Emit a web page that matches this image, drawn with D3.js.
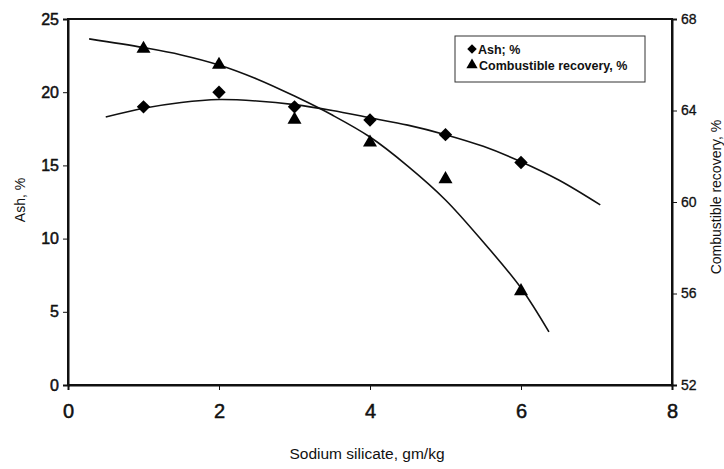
<!DOCTYPE html>
<html>
<head>
<meta charset="utf-8">
<script src="https://cdn.jsdelivr.net/npm/d3@7"></script>
<style>
  body { margin: 0; background: #fff; }
  svg text { font-family: "Liberation Sans", Arial, sans-serif; fill: #111; }
  .tick text { stroke: #111; stroke-width: 0.5px; }
</style>
</head>
<body>
<div id="chart"></div>
<script>
// measured points
const dose = [1, 2, 3, 4, 5, 6];
const ash = [19.0, 20.0, 19.0, 18.1, 17.1, 15.2];
const recovery = [66.7, 66.0, 63.6, 62.6, 61.0, 56.1];

// trend lines
const ashFitX = [0.5, 1, 1.5, 2, 2.5, 3, 3.5, 4, 4.5, 5, 5.5, 6, 6.5, 7.05];
const ashFitY = [18.3, 18.9, 19.3, 19.5, 19.4, 19.15, 18.75, 18.25, 17.75, 17.1, 16.3, 15.25, 14.0, 12.3];
const recFitX = [0.28, 1, 1.5, 2, 2.5, 3, 3.5, 4, 4.5, 5, 5.5, 6, 6.37];
const recFitY = [67.13, 66.75, 66.43, 65.99, 65.38, 64.63, 63.8, 62.84, 61.57, 60.09, 58.25, 56.24, 54.32];

// tick values
const xTicks = [0, 2, 4, 6, 8];
const ashTicks = [0, 5, 10, 15, 20, 25];
const recTicks = [52, 56, 60, 64, 68];

const width = 724, height = 469;
const plot = { left: 68, right: 672, top: 19, bottom: 385 };

const svg = d3.select("#chart").append("svg")
    .attr("width", width)
    .attr("height", height);

const x = d3.scaleLinear().domain([0, 8]).range([plot.left, plot.right]);
const yAsh = d3.scaleLinear().domain([0, 25]).range([plot.bottom, plot.top]);
const yRec = d3.scaleLinear().domain([52, 68]).range([plot.bottom, plot.top]);

// frame
svg.append("rect")
    .attr("x", plot.left).attr("y", plot.top)
    .attr("width", plot.right - plot.left).attr("height", plot.bottom - plot.top)
    .attr("fill", "none").attr("stroke", "#111").attr("stroke-width", 2);

// axes
const xAxis = svg.append("g")
    .attr("transform", `translate(0,${plot.bottom})`)
    .call(d3.axisBottom(x).tickValues(xTicks).tickSize(5).tickPadding(14));
xAxis.selectAll("text").style("font-size", "20px");

const leftAxis = svg.append("g")
    .attr("transform", `translate(${plot.left},0)`)
    .call(d3.axisLeft(yAsh).tickValues(ashTicks).tickSize(5).tickPadding(4));
leftAxis.selectAll("text").style("font-size", "16px");

const rightAxis = svg.append("g")
    .attr("transform", `translate(${plot.right},0)`)
    .call(d3.axisRight(yRec).tickValues(recTicks).tickSize(5).tickPadding(4));
rightAxis.selectAll("text").style("font-size", "14px").style("stroke-width", "0.3px");

svg.selectAll(".domain").attr("stroke", "#111").attr("stroke-width", 2);
svg.selectAll(".tick line").attr("stroke", "#111").attr("stroke-width", 1);

// axis titles
svg.append("text")
    .attr("x", 367).attr("y", 459)
    .attr("text-anchor", "middle")
    .style("font-size", "15.5px")
    .text("Sodium silicate, gm/kg");

svg.append("text")
    .attr("transform", "translate(25,200) rotate(-90)")
    .attr("text-anchor", "middle")
    .style("font-size", "14px")
    .text("Ash, %");

svg.append("text")
    .attr("transform", "translate(721,197) rotate(-90)")
    .attr("text-anchor", "middle")
    .style("font-size", "14px")
    .text("Combustible recovery, %");

// trend lines
const ashLine = d3.line()
    .x((d, i) => x(ashFitX[i]))
    .y(d => yAsh(d))
    .curve(d3.curveCatmullRom);
const recLine = d3.line()
    .x((d, i) => x(recFitX[i]))
    .y(d => yRec(d))
    .curve(d3.curveCatmullRom);

svg.append("path")
    .attr("d", ashLine(ashFitY))
    .attr("fill", "none").attr("stroke", "#111").attr("stroke-width", 1.6);
svg.append("path")
    .attr("d", recLine(recFitY))
    .attr("fill", "none").attr("stroke", "#111").attr("stroke-width", 1.6);

// markers
const diamond = d3.symbol().type(d3.symbolSquare).size(90);
const triangle = d3.symbol().type(d3.symbolTriangle).size(85);

svg.selectAll(".ash")
    .data(ash)
    .enter()
    .append("path")
    .attr("class", "ash")
    .attr("d", diamond)
    .attr("transform", (d, i) => `translate(${x(dose[i])},${yAsh(d)}) rotate(45)`)
    .attr("fill", "#000");

svg.selectAll(".rec")
    .data(recovery)
    .enter()
    .append("path")
    .attr("class", "rec")
    .attr("d", triangle)
    .attr("transform", (d, i) => `translate(${x(dose[i])},${yRec(d)})`)
    .attr("fill", "#000");

// legend
const legend = svg.append("g");
legend.append("rect")
    .attr("x", 455).attr("y", 36)
    .attr("width", 190).attr("height", 46)
    .attr("fill", "#fff").attr("stroke", "#333").attr("stroke-width", 1);
legend.append("path")
    .attr("d", d3.symbol().type(d3.symbolSquare).size(45))
    .attr("transform", "translate(472,49) rotate(45)")
    .attr("fill", "#000");
legend.append("text")
    .attr("x", 478).attr("y", 53.5)
    .style("font-size", "12.5px").style("font-weight", "bold")
    .text("Ash; %");
legend.append("path")
    .attr("d", d3.symbol().type(d3.symbolTriangle).size(55))
    .attr("transform", "translate(472,65)")
    .attr("fill", "#000");
legend.append("text")
    .attr("x", 479).attr("y", 69.5)
    .style("font-size", "12.5px").style("font-weight", "bold")
    .text("Combustible recovery, %");
</script>
</body>
</html>
